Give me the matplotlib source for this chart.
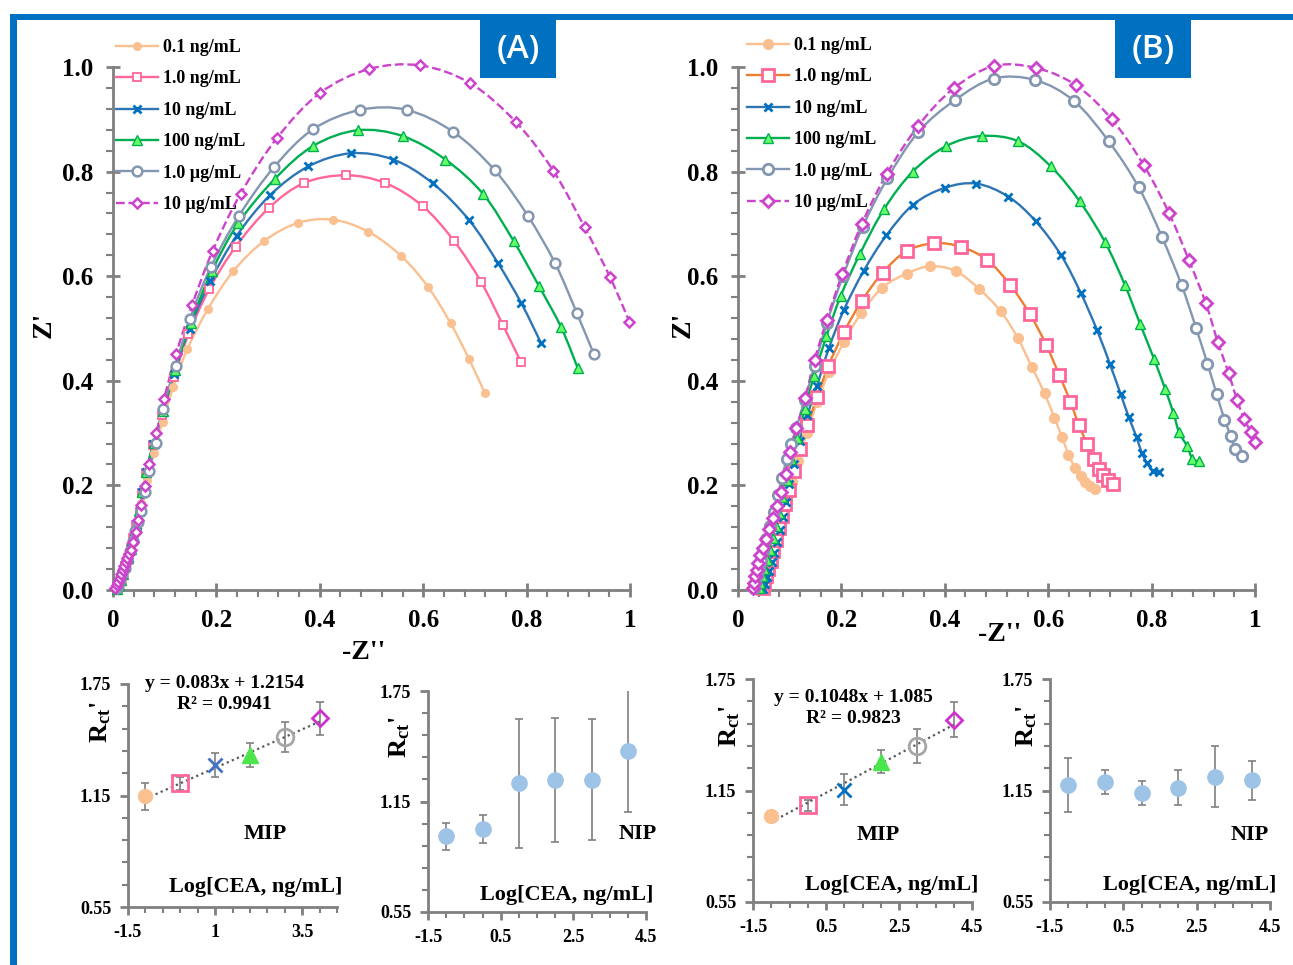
import numpy as np
import matplotlib
matplotlib.use("Agg")
import matplotlib.pyplot as plt
from matplotlib.path import Path
from matplotlib.patches import PathPatch, Rectangle
from matplotlib.lines import Line2D
from matplotlib.ticker import MultipleLocator, FixedLocator, FuncFormatter

plt.rcParams['font.family'] = ['Liberation Serif', 'DejaVu Serif']
plt.rcParams['font.weight'] = 'bold'
plt.rcParams['axes.labelweight'] = 'bold'
plt.rcParams['mathtext.fontset'] = 'custom'
plt.rcParams['mathtext.rm'] = 'Liberation Serif:bold'
plt.rcParams['mathtext.bf'] = 'Liberation Serif:bold'
plt.rcParams['mathtext.it'] = 'Liberation Serif:bold'

# ---------------- data ----------------
labels = ['0.1 ng/mL', '1.0 ng/mL', '10 ng/mL', '100 ng/mL', '1.0 µg/mL', '10 µg/mL']

# panel A (Nyquist, x = -Z'', y = Z')
A_x01 = [0.010,0.013,0.017,0.021,0.026,0.031,0.036,0.041,0.047,0.055,0.065,0.079,0.096,0.117,0.144,0.184,0.233,0.292,0.358,0.426,0.494,0.557,0.609,0.653,0.689,0.719]
A_y01 = [0.002,0.007,0.015,0.026,0.040,0.056,0.076,0.100,0.130,0.166,0.210,0.262,0.322,0.389,0.461,0.538,0.610,0.667,0.702,0.708,0.685,0.639,0.580,0.510,0.441,0.377]
A_x1 = [0.008,0.011,0.015,0.019,0.024,0.029,0.034,0.039,0.045,0.052,0.057,0.064,0.078,0.095,0.118,0.146,0.186,0.237,0.301,0.369,0.450,0.527,0.599,0.660,0.712,0.754,0.789]
A_y1 = [0.003,0.010,0.020,0.032,0.046,0.062,0.080,0.100,0.125,0.150,0.185,0.223,0.277,0.335,0.407,0.489,0.575,0.656,0.730,0.778,0.793,0.778,0.734,0.667,0.589,0.507,0.436]
A_x10 = [0.009,0.012,0.016,0.020,0.025,0.030,0.035,0.040,0.046,0.052,0.057,0.064,0.078,0.096,0.118,0.148,0.188,0.239,0.304,0.378,0.460,0.542,0.618,0.689,0.744,0.790,0.828]
A_y10 = [0.003,0.010,0.020,0.032,0.046,0.062,0.080,0.100,0.125,0.152,0.188,0.225,0.280,0.340,0.413,0.500,0.590,0.677,0.755,0.810,0.835,0.823,0.778,0.707,0.626,0.548,0.472]
A_x100 = [0.008,0.011,0.015,0.019,0.024,0.029,0.034,0.039,0.045,0.051,0.057,0.064,0.079,0.097,0.120,0.150,0.191,0.242,0.313,0.387,0.473,0.560,0.643,0.716,0.775,0.824,0.867,0.899]
A_y100 = [0.002,0.009,0.019,0.031,0.045,0.061,0.079,0.099,0.124,0.151,0.187,0.226,0.282,0.343,0.421,0.510,0.609,0.701,0.786,0.849,0.879,0.868,0.823,0.757,0.667,0.581,0.502,0.424]
A_x1000 = [0.007,0.010,0.014,0.018,0.023,0.028,0.033,0.038,0.043,0.048,0.054,0.062,0.070,0.083,0.096,0.121,0.149,0.189,0.244,0.311,0.387,0.478,0.568,0.658,0.738,0.802,0.855,0.897,0.930]
A_y1000 = [0.003,0.010,0.019,0.030,0.043,0.058,0.075,0.094,0.112,0.130,0.152,0.188,0.228,0.282,0.347,0.429,0.519,0.617,0.716,0.808,0.881,0.918,0.918,0.876,0.803,0.716,0.625,0.530,0.451]
A_x10000 = [0.004,0.007,0.010,0.013,0.016,0.019,0.022,0.025,0.028,0.031,0.035,0.039,0.044,0.049,0.055,0.062,0.070,0.084,0.099,0.122,0.153,0.193,0.247,0.317,0.400,0.495,0.594,0.691,0.780,0.852,0.912,0.961,0.999]
A_y10000 = [0.004,0.010,0.016,0.022,0.030,0.038,0.046,0.054,0.062,0.068,0.076,0.092,0.110,0.133,0.162,0.198,0.241,0.300,0.366,0.451,0.545,0.649,0.758,0.864,0.950,0.996,1.003,0.969,0.894,0.801,0.694,0.599,0.513]

# panel B
B_x01 = [0.045,0.048,0.051,0.055,0.059,0.064,0.070,0.077,0.085,0.094,0.104,0.116,0.133,0.153,0.176,0.205,0.238,0.279,0.326,0.372,0.421,0.466,0.508,0.541,0.568,0.593,0.612,0.627,0.639,0.652,0.663,0.672,0.681,0.690]
B_y01 = [0.005,0.015,0.027,0.040,0.055,0.072,0.092,0.115,0.142,0.172,0.207,0.247,0.300,0.359,0.417,0.474,0.529,0.578,0.605,0.619,0.610,0.576,0.533,0.482,0.427,0.376,0.329,0.292,0.259,0.234,0.218,0.207,0.199,0.193]
B_x1 = [0.048,0.051,0.054,0.058,0.063,0.068,0.074,0.080,0.086,0.091,0.098,0.108,0.119,0.134,0.153,0.175,0.205,0.239,0.280,0.326,0.380,0.432,0.482,0.526,0.565,0.596,0.621,0.643,0.659,0.675,0.688,0.698,0.706,0.716,0.725]
B_y1 = [0.004,0.014,0.026,0.040,0.056,0.075,0.096,0.119,0.141,0.165,0.191,0.227,0.270,0.315,0.369,0.429,0.493,0.552,0.607,0.648,0.663,0.656,0.631,0.584,0.527,0.469,0.412,0.360,0.316,0.280,0.251,0.232,0.220,0.211,0.202]
B_x10 = [0.048,0.052,0.056,0.060,0.065,0.070,0.076,0.082,0.088,0.093,0.099,0.108,0.119,0.134,0.153,0.176,0.205,0.243,0.287,0.339,0.400,0.461,0.523,0.576,0.625,0.663,0.694,0.719,0.740,0.756,0.771,0.781,0.791,0.803,0.814]
B_y10 = [0.002,0.012,0.024,0.037,0.053,0.071,0.092,0.115,0.140,0.168,0.202,0.240,0.285,0.334,0.391,0.463,0.536,0.610,0.678,0.737,0.769,0.777,0.752,0.705,0.640,0.568,0.498,0.433,0.375,0.330,0.292,0.262,0.243,0.227,0.225]
B_x100 = [0.040,0.043,0.047,0.051,0.056,0.061,0.067,0.073,0.079,0.086,0.094,0.103,0.115,0.129,0.147,0.171,0.199,0.236,0.283,0.338,0.403,0.471,0.542,0.605,0.661,0.710,0.748,0.778,0.805,0.826,0.842,0.853,0.868,0.879,0.891]
B_y100 = [0.004,0.014,0.027,0.041,0.058,0.077,0.099,0.122,0.148,0.178,0.211,0.250,0.291,0.346,0.409,0.485,0.563,0.643,0.729,0.800,0.849,0.868,0.858,0.810,0.743,0.665,0.584,0.508,0.441,0.385,0.339,0.302,0.276,0.251,0.246]
B_x1000 = [0.030,0.033,0.036,0.040,0.044,0.049,0.055,0.062,0.069,0.077,0.085,0.094,0.103,0.113,0.129,0.148,0.172,0.203,0.241,0.289,0.349,0.420,0.495,0.575,0.650,0.717,0.775,0.820,0.858,0.886,0.908,0.926,0.941,0.953,0.962,0.974]
B_y1000 = [0.004,0.014,0.026,0.040,0.056,0.075,0.097,0.122,0.150,0.181,0.214,0.250,0.280,0.310,0.364,0.428,0.511,0.600,0.694,0.787,0.876,0.937,0.978,0.975,0.935,0.858,0.770,0.675,0.583,0.501,0.433,0.374,0.326,0.295,0.269,0.257]
B_x10000 = [0.029,0.031,0.033,0.036,0.039,0.043,0.048,0.054,0.060,0.068,0.075,0.083,0.092,0.101,0.113,0.130,0.148,0.172,0.202,0.239,0.288,0.349,0.417,0.495,0.577,0.654,0.723,0.785,0.834,0.872,0.905,0.928,0.949,0.965,0.979,0.992,1.000]
B_y10000 = [0.004,0.014,0.026,0.039,0.052,0.066,0.081,0.097,0.116,0.137,0.160,0.187,0.222,0.264,0.310,0.367,0.439,0.517,0.605,0.699,0.796,0.888,0.959,1.002,0.998,0.965,0.900,0.812,0.720,0.631,0.548,0.474,0.415,0.364,0.327,0.302,0.283]

# calibration panels: log concentration vs Rct'
log_conc = [-1, 0, 1, 2, 3, 4]
A_mip = [1.146, 1.216, 1.314, 1.368, 1.465, 1.565]
A_mip_err = [0.073, 0.036, 0.065, 0.067, 0.079, 0.088]
A_nip = [0.961, 1.000, 1.249, 1.269, 1.269, 1.422]
A_nip_err = [0.074, 0.077, 0.350, 0.337, 0.328, 0.331]
B_mip = [1.013, 1.071, 1.154, 1.305, 1.389, 1.531]
B_mip_err = [0.0, 0.030, 0.083, 0.061, 0.092, 0.093]
B_nip = [1.179, 1.197, 1.137, 1.166, 1.225, 1.204]
B_nip_err = [0.147, 0.066, 0.066, 0.094, 0.166, 0.104]
A_slope, A_icpt, A_r2 = 0.083, 1.2154, 0.9941
B_slope, B_icpt, B_r2 = 0.1048, 1.085, 0.9823

# ---------------- styling ----------------
W, H = 1293, 965
GRAY = '#808080'
BLUE = '#0070C0'

def box(l, t, r, b):
    return [l / W, 1 - b / H, (r - l) / W, (b - t) / H]

def smooth_path(x, y):
    pts = np.column_stack([x, y])
    n = len(pts)
    verts = [pts[0]]
    codes = [Path.MOVETO]
    for i in range(n - 1):
        p0 = pts[max(i - 1, 0)]
        p1 = pts[i]
        p2 = pts[i + 1]
        p3 = pts[min(i + 2, n - 1)]
        verts += [p1 + (p2 - p0) / 6, p2 - (p3 - p1) / 6, p2]
        codes += [Path.CURVE4] * 3
    return Path(verts, codes)

def bold_ticks(ax):
    for lab in ax.get_xticklabels() + ax.get_yticklabels():
        lab.set_fontweight('bold')

def style_spines(ax):
    for s in ['top', 'right']:
        ax.spines[s].set_visible(False)
    for s in ['left', 'bottom']:
        ax.spines[s].set_color(GRAY)
        ax.spines[s].set_linewidth(2)
    ax.patch.set_alpha(0)

def style_main(ax):
    ax.set_xlim(0, 1)
    ax.set_ylim(0, 1)
    style_spines(ax)
    ax.xaxis.set_major_locator(MultipleLocator(0.2))
    ax.xaxis.set_minor_locator(MultipleLocator(0.04))
    ax.yaxis.set_major_locator(MultipleLocator(0.2))
    ax.yaxis.set_minor_locator(MultipleLocator(0.04))
    ax.xaxis.set_major_formatter(FuncFormatter(lambda v, p: '%g' % round(v, 2)))
    ax.yaxis.set_major_formatter(FuncFormatter(lambda v, p: '%.1f' % v))
    ax.tick_params(which='major', direction='inout', length=10, width=2, color=GRAY, labelsize=18, pad=9)
    ax.tick_params(which='minor', direction='out', length=5, width=1.5, color=GRAY)
    bold_ticks(ax)

def style_small(ax, xmajor):
    ax.set_xlim(-1.5, 4.5)
    ax.set_ylim(0.55, 1.75)
    style_spines(ax)
    ax.xaxis.set_major_locator(FixedLocator(xmajor))
    ax.xaxis.set_minor_locator(MultipleLocator(0.5))
    ax.yaxis.set_major_locator(FixedLocator([0.55, 1.15, 1.75]))
    ax.yaxis.set_minor_locator(FixedLocator(np.arange(0.55, 1.76, 0.12)))
    ax.xaxis.set_major_formatter(FuncFormatter(lambda v, p: '%g' % v))
    ax.yaxis.set_major_formatter(FuncFormatter(lambda v, p: '%.2f' % v))
    ax.tick_params(which='major', direction='out', length=6, width=2, color=GRAY, labelsize=13, pad=6)
    ax.tick_params(which='minor', direction='out', length=4, width=1.5, color=GRAY)
    ax.set_ylabel(r"$\mathbf{R_{ct}}$'", fontsize=19, fontweight='bold')
    bold_ticks(ax)

styles_A = [
    dict(color='#FAC090', ls='-', marker='o', ms=5.5, mfc='#FAC090', mec='#FAC090', mew=1),
    dict(color='#FF6699', ls='-', marker='s', ms=5.5, mfc='white', mec='#FF6699', mew=1.3),
    dict(color='#2E75B6', ls='-', marker='x', ms=6, mfc='none', mec='#0070C0', mew=2),
    dict(color='#00B050', ls='-', marker='^', ms=7.5, mfc='#66FF66', mec='#00B050', mew=1),
    dict(color='#8497B0', ls='-', marker='o', ms=7, mfc='white', mec='#8497B0', mew=1.8),
    dict(color='#CC44CC', ls='--', marker='D', ms=5, mfc='white', mec='#CC44CC', mew=1.8),
]
styles_B = [
    dict(color='#FAC090', ls='-', marker='o', ms=7, mfc='#FAC090', mec='#FAC090', mew=1),
    dict(color='#ED7D31', ls='-', marker='s', ms=8, mfc='white', mec='#FF6699', mew=2),
    dict(color='#2E75B6', ls='-', marker='x', ms=6, mfc='none', mec='#0070C0', mew=2),
    dict(color='#00B050', ls='-', marker='^', ms=7.5, mfc='#66FF66', mec='#00B050', mew=1),
    dict(color='#8497B0', ls='-', marker='o', ms=7.5, mfc='white', mec='#8497B0', mew=2),
    dict(color='#CC44CC', ls='--', marker='D', ms=6, mfc='white', mec='#CC44CC', mew=2),
]
small_A = [
    dict(marker='o', ms=10, mfc='#FAC090', mec='#FAC090', mew=1),
    dict(marker='s', ms=11, mfc='none', mec='#FF6699', mew=2),
    dict(marker='x', ms=10, mfc='none', mec='#4472C4', mew=2),
    dict(marker='^', ms=11, mfc='#4CE64C', mec='#4CE64C', mew=1),
    dict(marker='o', ms=12, mfc='none', mec='#A6A6A6', mew=2),
    dict(marker='D', ms=8, mfc='none', mec='#CC33CC', mew=2),
]
small_B = [dict(s) for s in small_A]
small_B[2]['mec'] = '#0070C0'


def draw_nyquist(ax, xs, ys, styles):
    handles = []
    for x, y, st in zip(xs, ys, styles):
        ax.add_patch(PathPatch(smooth_path(x, y), facecolor='none', edgecolor=st['color'],
                               lw=1.7, ls=st['ls'], clip_on=False, zorder=2))
        ax.plot(x, y, ls='none', marker=st['marker'], ms=st['ms'], mfc=st['mfc'],
                mec=st['mec'], mew=st['mew'], clip_on=False, zorder=3)
        handles.append(Line2D([], [], color=st['color'], ls=st['ls'], lw=1.7,
                              marker=st['marker'], ms=st['ms'], mfc=st['mfc'],
                              mec=st['mec'], mew=st['mew']))
    return handles


def draw_calib(ax, y, err, marks=None, fit=None):
    ax.errorbar(log_conc, y, yerr=err, fmt='none', ecolor=GRAY, elinewidth=1.2,
                capsize=3, capthick=1.2, zorder=2)
    if fit is not None:
        xs = np.array([log_conc[0], log_conc[-1]])
        ax.plot(xs, fit[0] * xs + fit[1], ls=(0, (1, 1.5)), color='#595959', lw=1.6, zorder=3)
    for i in range(len(log_conc)):
        if marks is None:
            ax.plot(log_conc[i], y[i], ls='none', marker='o', ms=11, mfc='#9DC3E6',
                    mec='#9DC3E6', zorder=4)
        else:
            ax.plot(log_conc[i], y[i], ls='none', zorder=4, **marks[i])


fig = plt.figure(figsize=(W / 100, H / 100), dpi=100)

# frame and panel tags
fig.add_artist(Rectangle((10 / W, 1 - 20 / H), (W - 10) / W, 6 / H, transform=fig.transFigure,
                         color=BLUE, lw=0))
fig.add_artist(Rectangle((10 / W, 0), 7 / W, 1 - 14 / H, transform=fig.transFigure,
                         color=BLUE, lw=0))
for tag, l in [('(A)', 480), ('(B)', 1115)]:
    fig.add_artist(Rectangle((l / W, 1 - 78 / H), 76 / W, 60 / H, transform=fig.transFigure,
                             color=BLUE, lw=0))
    fig.text((l + 38) / W, 1 - 49 / H, tag, color='white', fontsize=24, family='Open Sans',
             weight='semibold', ha='center', va='center')

# main Nyquist panels
axA = fig.add_axes(box(113, 67, 630, 590))
axB = fig.add_axes(box(738, 67, 1255, 590))
style_main(axA)
style_main(axB)

hA = draw_nyquist(axA, [A_x01, A_x1, A_x10, A_x100, A_x1000, A_x10000],
                  [A_y01, A_y1, A_y10, A_y100, A_y1000, A_y10000], styles_A)
hB = draw_nyquist(axB, [B_x01, B_x1, B_x10, B_x100, B_x1000, B_x10000],
                  [B_y01, B_y1, B_y10, B_y100, B_y1000, B_y10000], styles_B)

for ax, h, (lx, ty) in [(axA, hA, (116, 39)), (axB, hB, (747, 37))]:
    ax.legend(h, labels, loc='upper left', bbox_to_anchor=(lx / W, 1 - ty / H),
              bbox_transform=fig.transFigure, frameon=False,
              prop=dict(size=13, weight='bold'),
              handlelength=2.3, handletextpad=0.3, labelspacing=0.8, borderpad=0,
              borderaxespad=0)

for ax, yx, xx, xy in [(axA, -0.11, 0.484, -0.096), (axB, -0.082, 0.507, -0.061)]:
    ax.set_ylabel("Z'", fontsize=20, fontweight='bold')
    ax.yaxis.set_label_coords(yx, 0.507)
    ax.set_xlabel("-Z''", fontsize=20, fontweight='bold')
    ax.xaxis.set_label_coords(xx, xy)

# calibration panels
ax1 = fig.add_axes(box(128, 684, 337, 907))
ax2 = fig.add_axes(box(428, 691, 646, 912))
ax3 = fig.add_axes(box(753, 679, 972, 902))
ax4 = fig.add_axes(box(1050, 679, 1270, 902))
style_small(ax1, [-1.5, 1, 3.5])
style_small(ax2, [-1.5, 0.5, 2.5, 4.5])
style_small(ax3, [-1.5, 0.5, 2.5, 4.5])
style_small(ax4, [-1.5, 0.5, 2.5, 4.5])

draw_calib(ax1, A_mip, A_mip_err, small_A, (A_slope, A_icpt))
draw_calib(ax2, A_nip, A_nip_err)
draw_calib(ax3, B_mip, B_mip_err, small_B, (B_slope, B_icpt))
draw_calib(ax4, B_nip, B_nip_err)

ax1.yaxis.set_label_coords(-0.07, 0.83)
ax2.yaxis.set_label_coords(-0.075, 0.79)
ax3.yaxis.set_label_coords(-0.048, 0.79)
ax4.yaxis.set_label_coords(-0.048, 0.79)

def eq_text(ax, slope, icpt, r2, x, y1, y2):
    ax.text(x, y1, 'y = %gx + %g' % (slope, icpt), transform=ax.transAxes, fontsize=14,
            ha='center', va='center')
    ax.text(x, y2, 'R² = %g' % r2, transform=ax.transAxes, fontsize=14,
            ha='center', va='center')

eq_text(ax1, A_slope, A_icpt, A_r2, 0.46, 1.0, 0.906)
eq_text(ax3, B_slope, B_icpt, B_r2, 0.457, 0.919, 0.825)

for ax, tag, tx, ty, lx, ly in [(ax1, 'MIP', 0.655, 0.327, 0.612, 0.09),
                                (ax2, 'NIP', 0.96, 0.353, 0.638, 0.077),
                                (ax3, 'MIP', 0.571, 0.30, 0.635, 0.076),
                                (ax4, 'NIP', 0.91, 0.30, 0.636, 0.076)]:
    ax.text(tx, ty, tag, transform=ax.transAxes, fontsize=16, ha='center', va='center')
    ax.text(lx, ly, 'Log[CEA, ng/mL]', transform=ax.transAxes, fontsize=16,
            ha='center', va='center')

fig.savefig('out.png', dpi=100)
